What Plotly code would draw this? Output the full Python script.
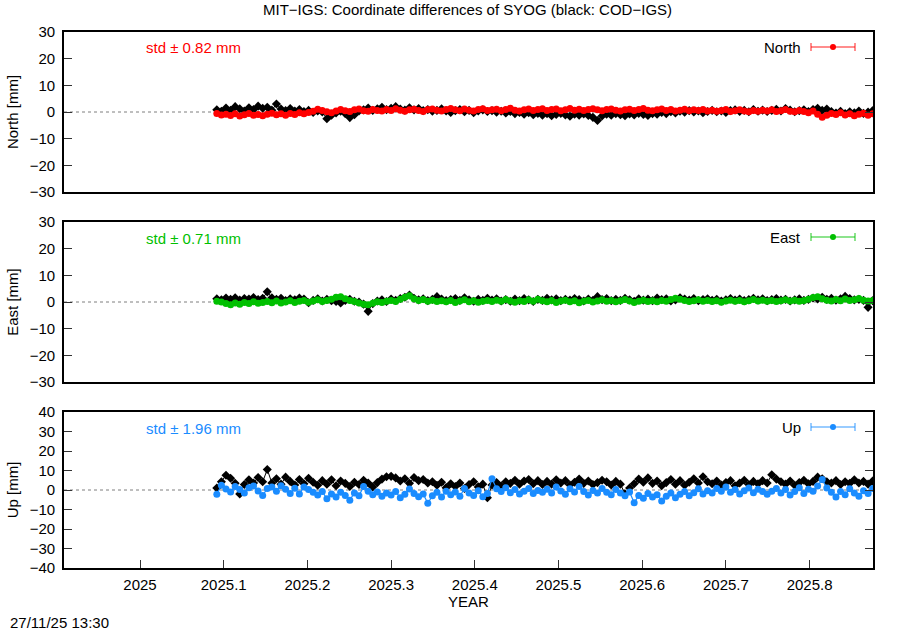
import plotly.graph_objects as go

# ---- data (2-day sampling, first day-of-year 34) ----
first_doy = 34
step_days = 2

north_mit = [
    -0.6, -1.1, -0.8, -1.3, -0.7, -1.5, -1.0, -0.6, -1.2, -0.9, -1.4, -0.8,
    -0.5, -1.0, -0.7, -1.2, -0.6, -0.9, -0.3, -0.7, -0.2, 0.3, 1.0, 0.6,
    0.1, -0.3, 0.4, 0.9, 0.5, 0.2, 0.8, 1.1, 0.5, 0.3, 0.9, 0.6,
    0.4, 0.9, 0.6, 1.2, 0.7, 0.3, 0.8, 1.0, 0.6, 0.2, 0.9, 1.1,
    0.7, 0.4, 0.9, 1.3, 0.8, 0.5, 1.1, 0.7, 0.4, 0.9, 1.2, 0.6,
    0.8, 1.0, 0.5, 0.9, 1.4, 0.7, 0.4, 0.8, 1.1, 0.6, 0.9, 1.2,
    0.6, 0.9, 1.1, 0.5, 0.8, 1.3, 0.7, 1.0, 0.6, 0.9, 1.2, 0.8,
    0.5, 0.9, 1.1, 0.7, 0.4, 0.8, 1.0, 0.6, 0.9, 1.3, 0.7, 0.5,
    0.8, 1.1, 0.6, 0.9, 0.4, 0.7, 1.0, 0.5, 0.8, 0.6, 0.9, 0.4,
    0.7, 0.3, 0.6, 0.9, 0.2, 0.5, 0.8, 0.4, 0.1, 0.6, 0.3, 0.7,
    0.4, 0.8, 0.2, 0.5, 0.9, 0.3, 0.1, 0.6, 0.2, -0.3, 0.4, -0.8,
    -2.0, -1.2, -0.6, -0.9, -0.3, -1.1, -0.7, -1.4, -0.8, -0.5, -1.2, -0.7,
]
north_cod = [
    0.8, 0.3, 1.5, 0.6, 2.0, 1.2, 0.4, 1.6, 0.9, 2.2, 1.4, 1.8,
    0.7, 3.0, 1.1, 0.5, 1.3, 0.4, 0.9, 0.2, 0.6, -0.2, 0.4, 0.0,
    -2.5, -1.2, -0.4, 0.3, -0.6, -2.1, -1.0, 0.4, 0.8, 1.5, 0.6, 1.2,
    1.8, 0.9, 1.4, 2.0, 1.1, 0.7, 1.6, 0.8, 1.3, 0.5, 0.9, 0.3,
    0.6, 1.2, 0.4, -0.2, 0.5, 0.9, 0.1, 0.6, -0.3, 0.4, 0.8, 0.2,
    0.5, -0.1, 0.3, -0.4, 0.2, -0.6, -0.2, -0.8, -0.3, -1.0, -0.5, -1.2,
    -0.6, -1.4, -0.9, -0.5, -1.1, -1.6, -0.8, -1.2, -0.7, -1.3, -2.0, -3.2,
    -1.5, -0.8, -1.2, -0.6, -1.0, -1.4, -0.7, -1.1, -0.5, -0.9, -1.3, -0.6,
    -0.8, -0.2, -0.6, 0.1, -0.4, 0.3, -0.1, 0.5, 0.0, 0.4, -0.3, 0.2,
    0.6, 0.1, 0.4, -0.2, 0.5, 0.8, 0.2, 0.6, 0.1, 0.9, 0.3, 0.7,
    0.2, 0.6, 1.0, 0.4, 1.3, 0.7, 0.1, 0.5, 0.8, 0.2, 0.9, 1.4,
    0.6, 1.1, 0.2, -0.4, 0.3, -0.6, 0.1, -0.3, 0.4, -0.5, 0.0, 0.5,
]
east_mit = [
    0.3, 0.0, -0.6, -1.0, -0.4, -0.8, -0.2, -0.6, 0.1, -0.5, -0.2, 0.2,
    -0.3, 0.4, -0.4, 0.0, 0.5, -0.2, 0.3, 0.6, -0.1, 0.4, 0.8, 0.2,
    0.6, 1.0, 1.8, 2.0, 1.2, 0.6, 0.2, -0.4, -0.8, -1.0, -0.5, 0.1,
    -0.2, 0.3, 0.6, 0.2, 1.0, 1.8, 2.3, 1.2, 0.6, 0.9, 0.3, 0.7,
    0.2, 0.5, 0.1, 0.6, -0.2, 0.4, 0.8, 0.1, 0.5, -0.1, 0.3, 0.6,
    0.2, 0.7, 0.3, 0.9, 0.4, -0.1, 0.5, 0.2, 0.8, 0.3, 1.0, 0.5,
    0.1, 0.6, -0.2, 0.4, 0.7, 0.1, 0.5, -0.3, 0.3, 0.6, 0.0, 0.4,
    0.8, 0.3, 0.6, 0.1, 0.5, 0.9, 0.4, -0.2, 0.3, 0.7, 0.2, 0.5,
    0.1, 0.6, 0.3, 0.9, 1.4, 1.0, 0.6, 0.2, 0.5, 0.8, 0.3, 0.6,
    0.2, 0.5, -0.1, 0.4, 0.7, 0.3, 0.6, 0.1, 0.5, 0.9, 0.4, 0.7,
    0.3, 0.6, 0.2, 0.5, 0.8, 0.4, 0.7, 0.3, 0.6, 1.0, 1.7, 2.0,
    1.2, 0.7, 0.4, 0.9, 0.5, 1.1, 0.6, 0.8, 1.3, 0.7, 0.4, 0.6,
]
east_cod = [
    1.2, 0.8, 1.5, 1.0, 1.6, 0.7, 1.3, 1.1, 1.7, 0.9, 1.4, 3.8,
    1.6, 1.0, 1.4, 0.5, 1.2, 0.8, 1.5, 1.1, -0.3, 0.6, 1.2, 0.4,
    1.0, 0.5, 0.2, -0.4, 0.6, 1.0, 0.3, 0.0, -0.8, -3.5, -0.6, 0.4,
    0.8, 0.2, 1.1, 0.6, 1.3, 1.8, 2.6, 1.4, 0.8, 1.2, 0.5, 1.0,
    2.0, 1.1, 0.5, 0.9, 1.3, 0.6, 1.6, 0.8, 0.3, 1.0, 0.6, 1.4,
    0.7, 1.2, 0.4, 0.9, 0.3, 1.1, 0.5, 1.3, 0.8, 0.2, 1.0, 0.6,
    1.4, 0.8, 1.2, 0.5, 1.0, 0.7, 1.3, 0.9, 0.4, 1.1, 0.6, 2.0,
    0.9, 1.3, 0.5, 1.0, 0.6, 1.4, 0.8, 0.3, 1.2, 0.7, 1.1, 0.5,
    1.5, 0.9, 1.2, 0.4, 0.8, 1.6, 1.1, 0.7, 1.3, 0.5, 0.9, 1.2,
    0.6, 1.0, 0.4, 0.8, 1.3, 0.7, 1.1, 0.5, 0.9, 1.4, 0.8, 1.2,
    0.5, 0.9, 1.3, 0.7, 1.0, 0.4, 0.8, 1.2, 0.6, 1.0, 1.5, 1.1,
    1.8, 1.0, 1.4, 0.7, 1.2, 2.1, 1.3, 0.8, 1.0, 0.6, -2.0, 0.5,
]
up_mit = [
    -2.2, 2.5, 0.5, -1.0, 1.8, 0.3, -1.5, 1.2, 2.0, -0.5, -2.8, 0.8,
    1.5, -0.6, 2.2, 0.4, -1.8, 0.9, -2.0, 1.6, 0.2, -1.2, -2.6, -0.8,
    -4.5, -2.0, -3.6, -1.2, -2.8, -5.2, -1.5, -3.0, 1.8, -0.6, -2.4, -1.0,
    -3.2, -1.5, -2.6, -0.8, -4.0, -2.2, 0.5, -1.8, -3.5, -2.0, -6.8, -3.0,
    -1.2, -3.6, -0.6, -2.4, -1.0, -3.2, 0.8, -1.6, -2.8, -0.4, -3.4, -1.8,
    5.8, 0.6, -0.8, 1.2, -1.4, 0.2, -2.0, -0.6, 0.8, -1.8, -0.2, -1.2,
    0.4, -1.5, 1.5, -0.5, -2.2, 0.6, -1.0, 1.8, -0.8, -2.5, -0.2, -1.6,
    0.8, -1.2, -2.4, 0.2, -1.6, -3.0, -1.0, -6.5, -2.8, -4.2, -1.8, -3.6,
    -2.4, -5.6, -3.2, -1.6, -4.0, -2.2, -0.8, -3.0, -1.4, 0.6, -2.0, -0.4,
    -1.6, 0.8, -0.6, 1.5, -1.2, 0.2, -2.0, -0.4, 1.0, -1.4, 0.4, -0.8,
    -2.2, -0.6, 0.8, -1.6, 0.2, -2.6, -0.8, 1.2, -1.8, 0.4, -0.6, 2.0,
    5.4, 1.0, -1.2, -3.6, -0.8, -2.4, 0.6, -1.6, -3.2, -0.4, -1.8, 0.8,
]
up_cod = [
    1.0, 4.2, 7.6, 6.0, 3.5, -2.0, 2.8, 5.2, 3.6, 6.4, 4.2, 10.5,
    3.6, 5.8, 3.0, 6.6, 4.4, 2.6, 5.4, 3.2, 6.0, 4.0, 2.4, 4.8,
    3.0, 5.2, 2.2, 4.6, 3.4, 1.8, 4.0, 2.8, 5.0, 3.6, 1.6, 3.8,
    5.6, 6.8, 7.0, 6.2, 4.6, 5.8, 3.4, 6.4, 4.8, 5.4, 3.6, 4.2,
    2.4, 4.0, 1.2, 3.2, 1.8, 3.6, 0.8, 2.8, 4.2, 1.6, 3.0, -4.0,
    2.6, 3.8, 2.0, 4.2, 3.4, 5.0, 3.0, 4.6, 5.4, 3.2, 4.8, 2.8,
    4.4, 3.0, 5.2, 3.6, 4.8, 2.6, 4.0, 5.6, 3.4, 4.6, 2.8, 3.8,
    5.0, 4.2, 2.6, 4.4, 3.0, -2.0, 1.0, 3.2, 5.6, 4.0, 6.2, 3.4,
    4.6, 2.2, 3.8, 5.4, 3.0, 4.8, 2.4, 4.0, 5.8, 3.6, 6.8, 4.2,
    3.2, 4.6, 2.6, 3.8, 4.8, 2.2, 3.6, 5.0, 2.8, 4.4, 3.2, 4.8,
    3.6, 7.8, 5.6, 4.2, 3.0, 4.6, 2.4, 3.8, 5.0, 3.2, 4.4, 6.6,
    5.8, 4.2, 3.6, 4.8, 2.8, 4.2, 3.4, 5.2, 3.6, 4.4, 3.0, 4.6,
]

components = ["North", "East", "Up"]
std_values = [0.82, 0.71, 1.96]
y_limits = [30, 30, 40]
x_ticks = [2025, 2025.1, 2025.2, 2025.3, 2025.4, 2025.5, 2025.6, 2025.7, 2025.8]
x_tick_labels = ["2025", "2025.1", "2025.2", "2025.3", "2025.4", "2025.5", "2025.6", "2025.7", "2025.8"]

# ---- styling ----
FONT = "Liberation Sans, Arial, Helvetica, sans-serif"
FS = 15
colors = ["#ff0000", "#00c000", "#1a8cff"]
legend_line_colors = ["rgba(255,0,0,0.6)", "rgba(0,192,0,0.6)", "rgba(26,140,255,0.6)"]
W, H = 900, 630
L, R, T, B = 64, 873, 32, 568
panel_px = [(32, 192), (222, 382), (412, 568)]


def py(p):
    return (B - p) / (B - T)


def px(p):
    return (p - L) / (R - L)


def to_years(n):
    return [2025 + (first_doy + step_days * i - 0.5) / 365.0 for i in range(n)]


mit_series = [north_mit, east_mit, up_mit]
cod_series = [north_cod, east_cod, up_cod]

fig = go.Figure()
for k in range(3):
    xa = "x" if k == 0 else f"x{k+1}"
    ya = "y" if k == 0 else f"y{k+1}"
    cod = cod_series[k]
    mit = mit_series[k]
    fig.add_trace(go.Scatter(
        x=to_years(len(cod)), y=cod, xaxis=xa, yaxis=ya, mode="lines+markers",
        line=dict(color="#000000", width=1),
        marker=dict(symbol="diamond", size=7, color="#000000"),
        showlegend=False, hoverinfo="x+y"))
    fig.add_trace(go.Scatter(
        x=to_years(len(mit)), y=mit, xaxis=xa, yaxis=ya, mode="lines+markers",
        line=dict(color=colors[k], width=1.2),
        marker=dict(symbol="circle", size=7, color=colors[k]),
        showlegend=False, hoverinfo="x+y"))

layout = dict(
    width=W, height=H,
    margin=dict(l=L, r=W - R, t=T, b=H - B),
    paper_bgcolor="white", plot_bgcolor="white",
    font=dict(family=FONT, size=FS, color="#000000"),
    showlegend=False,
)
shapes = []
annotations = []
for k in range(3):
    top, bot = panel_px[k]
    suffix = "" if k == 0 else str(k + 1)
    is_bottom = (k == 2)
    layout["xaxis" + suffix] = dict(
        domain=[0, 1], anchor="y" + suffix,
        range=[2024.9092, 2025.87575],
        tickvals=x_ticks, ticktext=x_tick_labels,
        showticklabels=is_bottom, ticks="inside" if is_bottom else "",
        ticklen=8, tickwidth=1, tickcolor="#333333",
        ticklabelstandoff=2,
        showline=True, linecolor="#000000", linewidth=1.6, mirror=True,
        showgrid=False, zeroline=False,
        tickfont=dict(size=FS),
        title=dict(text="YEAR", standoff=5, font=dict(size=FS)) if is_bottom else None,
    )
    if not is_bottom:
        layout["xaxis" + suffix]["matches"] = "x3"
    lim = y_limits[k]
    layout["yaxis" + suffix] = dict(
        domain=[py(bot), py(top)], anchor="x" + suffix,
        range=[-lim, lim], dtick=10, tick0=0,
        ticks="inside", ticklen=8, tickwidth=1, tickcolor="#333333",
        ticklabelstandoff=4,
        showline=True, linecolor="#000000", linewidth=1.6, mirror="ticks",
        showgrid=False, zeroline=False,
        tickfont=dict(size=FS),
        title=dict(text=f"{components[k]} [mm]", standoff=7, font=dict(size=FS)),
    )
    # dotted zero reference line
    shapes.append(dict(type="line", xref=f"x{suffix} domain", yref="y" + suffix,
                       x0=0, x1=1, y0=0, y1=0, layer="below",
                       line=dict(color="#7f7f7f", width=1, dash="dot")))
    # std label
    ly = top + 16
    annotations.append(dict(
        xref="paper", yref="paper", x=px(144), y=py(ly), xanchor="left", yanchor="middle",
        text=f"std ± {std_values[k]:.2f} mm", showarrow=False,
        font=dict(size=FS, color=colors[k])))
    # legend-like key
    annotations.append(dict(
        xref="paper", yref="paper", x=px(803), y=py(ly - 1), xanchor="right", yanchor="middle",
        text=components[k], showarrow=False, font=dict(size=FS, color="#000000")))
    ky = ly - 1
    shapes.append(dict(type="line", xref="paper", yref="paper",
                       x0=px(811), x1=px(855), y0=py(ky), y1=py(ky),
                       line=dict(color=legend_line_colors[k], width=1.5)))
    for cx in (811, 855):
        shapes.append(dict(type="line", xref="paper", yref="paper",
                           x0=px(cx), x1=px(cx), y0=py(ky - 4), y1=py(ky + 4),
                           line=dict(color=legend_line_colors[k], width=1.5)))
    shapes.append(dict(type="circle", xref="paper", yref="paper",
                       x0=px(830), x1=px(836), y0=py(ky + 3), y1=py(ky - 3),
                       fillcolor=colors[k], line=dict(color=colors[k], width=0)))

annotations.append(dict(
    xref="paper", yref="paper", x=px(467), y=py(10), xanchor="center", yanchor="middle",
    text="MIT−IGS: Coordinate differences of SYOG (black: COD−IGS)", showarrow=False,
    font=dict(size=FS)))
annotations.append(dict(
    xref="paper", yref="paper", x=px(8), y=py(622), xanchor="left", yanchor="middle",
    text="27/11/25 13:30", showarrow=False, font=dict(size=FS)))

layout["shapes"] = shapes
layout["annotations"] = annotations
fig.update_layout(**layout)
fig.write_html("out.html", config={"displayModeBar": False},
               post_script="document.body.style.margin='0';document.body.style.overflow='hidden';")
